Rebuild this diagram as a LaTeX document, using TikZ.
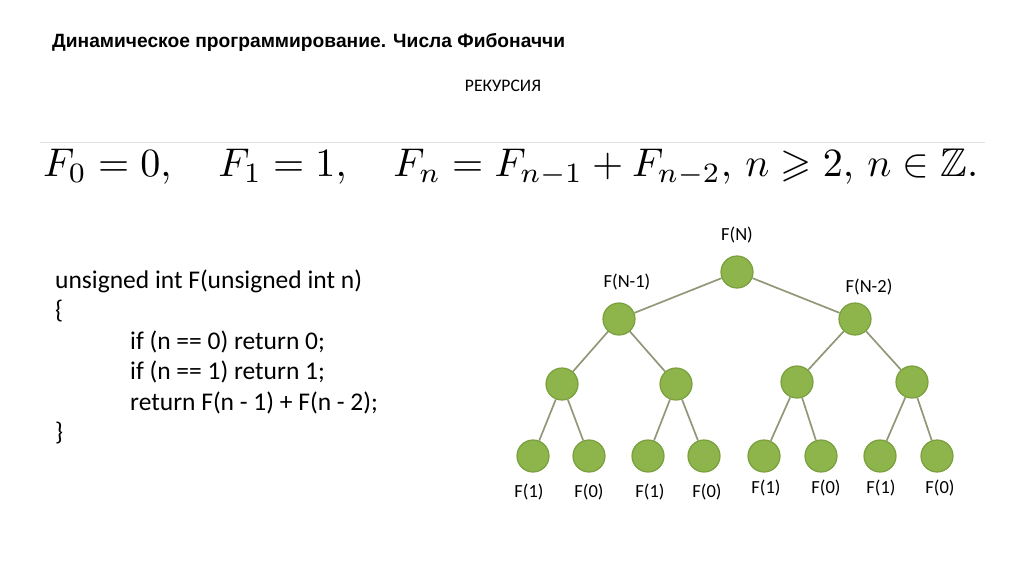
\documentclass[tikz,border=0pt]{standalone}
\usepackage{amssymb}
\usepackage{fontspec}
\setmainfont{Liberation Sans}
\newfontfamily\codefont{Carlito}
\definecolor{nodegreen}{RGB}{142,180,76}
\definecolor{nodeborder}{RGB}{122,160,62}
\definecolor{edgegray}{RGB}{145,152,120}
\tikzset{
  tnode/.style={circle, fill=nodegreen, draw=nodeborder, line width=1.2pt, minimum size=32pt, inner sep=0pt},
  tedge/.style={draw=edgegray, line width=1.7pt},
  tlabel/.style={font=\codefont\fontsize{18.5}{20}\selectfont, inner sep=0pt},
  codeline/.style={font=\codefont\fontsize{25.5}{28}\selectfont, anchor=base west, inner sep=0pt}
}
\begin{document}
\begin{tikzpicture}[x=1pt,y=-1pt]
\useasboundingbox (0,0) rectangle (1024,574);
\fill[white] (0,0) rectangle (1024,574);
% title
\node[anchor=base west, inner sep=0pt, font=\bfseries\fontsize{19.2}{22}\selectfont] (title) at (52,47) {Динамическое программирование. Числа Фибоначчи};
\node[anchor=base, inner sep=0pt, font=\codefont\fontsize{17.6}{20}\selectfont] (rec) at (503,91) {РЕКУРСИЯ};
% formula
\draw[black!12, line width=0.8pt] (40,142) -- (985,142);
\node[anchor=base west, inner sep=0pt] (formula) at (43,176) {\resizebox{935pt}{!}{$F_0=0,\quad F_1=1,\quad F_n=F_{n-1}+F_{n-2},\, n\geqslant 2,\, n\in\mathbb{Z}.$}};
% code
\node[codeline] (c1) at (55,288) {unsigned int F(unsigned int n)};
\node[codeline] (c2) at (55,318) {\{};
\node[codeline] (c3) at (130,349) {if (n == 0) return 0;};
\node[codeline] (c4) at (130,379) {if (n == 1) return 1;};
\node[codeline] (c5) at (130,410) {return F(n - 1) + F(n - 2);};
\node[codeline] (c6) at (55,440) {\}};
% tree nodes
\node[tnode] (r) at (737,272) {};
\node[tnode] (a) at (619,319) {};
\node[tnode] (b) at (855,319) {};
\node[tnode] (a1) at (562,384) {};
\node[tnode] (a2) at (676,384) {};
\node[tnode] (b1) at (797,382) {};
\node[tnode] (b2) at (912,382) {};
\node[tnode] (l1) at (533,456) {};
\node[tnode] (l2) at (589,456) {};
\node[tnode] (l3) at (648,456) {};
\node[tnode] (l4) at (704,456) {};
\node[tnode] (l5) at (764,456) {};
\node[tnode] (l6) at (821,456) {};
\node[tnode] (l7) at (880,456) {};
\node[tnode] (l8) at (937,456) {};
% edges
\path[tedge] (r) -- (a);
\path[tedge] (r) -- (b);
\path[tedge] (a) -- (a1);
\path[tedge] (a) -- (a2);
\path[tedge] (b) -- (b1);
\path[tedge] (b) -- (b2);
\path[tedge] (a1) -- (l1);
\path[tedge] (a1) -- (l2);
\path[tedge] (a2) -- (l3);
\path[tedge] (a2) -- (l4);
\path[tedge] (b1) -- (l5);
\path[tedge] (b1) -- (l6);
\path[tedge] (b2) -- (l7);
\path[tedge] (b2) -- (l8);
% labels
\node[tlabel] (tr) at (737,235) {F(N)};
\node[tlabel] (ta) at (627,282) {F(N-1)};
\node[tlabel] (tb) at (869,287) {F(N-2)};
\node[tlabel] (t1) at (529,492) {F(1)};
\node[tlabel] (t2) at (589,492) {F(0)};
\node[tlabel] (t3) at (650,492) {F(1)};
\node[tlabel] (t4) at (707,492) {F(0)};
\node[tlabel] (t5) at (766,488) {F(1)};
\node[tlabel] (t6) at (826,488) {F(0)};
\node[tlabel] (t7) at (881,488) {F(1)};
\node[tlabel] (t8) at (940,488) {F(0)};
\end{tikzpicture}
\end{document}
